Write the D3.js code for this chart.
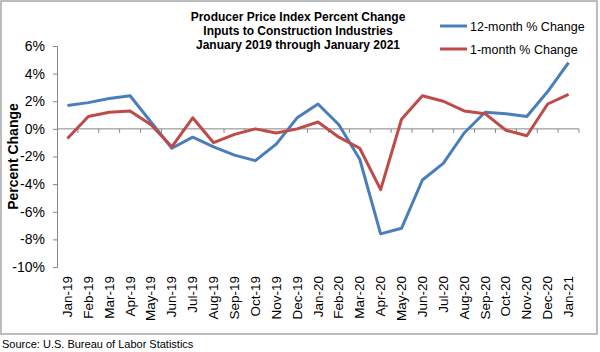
<!DOCTYPE html>
<html>
<head>
<meta charset="utf-8">
<script src="https://cdn.jsdelivr.net/npm/d3@7"></script>
<style>
  body { margin: 0; background: #fff; }
  svg text { font-family: "Liberation Sans", Arial, sans-serif; }
</style>
</head>
<body>
<div id="chart"></div>
<script>
// months on the category axis
const months = ["Jan-19","Feb-19","Mar-19","Apr-19","May-19","Jun-19","Jul-19","Aug-19","Sep-19","Oct-19","Nov-19","Dec-19",
    "Jan-20","Feb-20","Mar-20","Apr-20","May-20","Jun-20","Jul-20","Aug-20","Sep-20","Oct-20","Nov-20","Dec-20","Jan-21"];

// 12-month % change
const twelveMonth = [1.7, 1.9, 2.2, 2.4, 0.5, -1.4, -0.6, -1.3, -1.9, -2.3, -1.1, 0.8,
    1.8, 0.3, -2.2, -7.6, -7.2, -3.7, -2.5, -0.3, 1.2, 1.1, 0.9, 2.7, 4.8];

// 1-month % change
const oneMonth = [-0.7, 0.9, 1.2, 1.3, 0.3, -1.3, 0.8, -1.0, -0.4, 0.0, -0.3, 0.0,
    0.5, -0.6, -1.4, -4.4, 0.7, 2.4, 2.0, 1.3, 1.1, -0.1, -0.5, 1.8, 2.5];

const yTicks = [6, 4, 2, 0, -2, -4, -6, -8, -10];

const titleLines = ["Producer Price Index Percent Change", "Inputs to Construction Industries", "January 2019 through January 2021"];

const series = [
    {name: "12-month % Change", values: twelveMonth, color: "#4a7ebb"},
    {name: "1-month % Change", values: oneMonth, color: "#be4b48"}
];

const width = 600, height = 352;
const margin = {top: 46, right: 21, bottom: 85, left: 57};

const svg = d3.select("#chart").append("svg")
    .attr("width", width)
    .attr("height", height);

// outer frame
svg.append("rect")
    .attr("x", 1).attr("y", 1)
    .attr("width", 596).attr("height", 333)
    .attr("fill", "none")
    .attr("stroke", "#a6a6a6")
    .attr("stroke-width", 1.5);

const x = d3.scaleBand()
    .domain(months)
    .range([margin.left, width - margin.right]);

const y = d3.scaleLinear()
    .domain([-10, 6])
    .range([height - margin.bottom, margin.top]);

// y axis
const yAxis = svg.append("g")
    .attr("transform", `translate(${margin.left},0)`)
    .call(d3.axisLeft(y).tickValues(yTicks).tickSize(4).tickFormat(d => d + "%"));
yAxis.select(".domain").attr("stroke", "#868686");
yAxis.selectAll(".tick line").attr("stroke", "#868686");
yAxis.selectAll(".tick text")
    .attr("x", -12)
    .attr("fill", "#000")
    .style("font-size", "14px")
    .style("font-family", "Liberation Sans, Arial, sans-serif");

// x axis along zero line, ticks at band boundaries
const zeroG = svg.append("g")
    .attr("transform", `translate(0,${y(0)})`);
zeroG.append("line")
    .attr("x1", margin.left).attr("x2", width - margin.right)
    .attr("stroke", "#868686");
zeroG.selectAll(".xtick")
    .data(months)
    .enter().append("line")
    .attr("class", "xtick")
    .attr("x1", d => x(d) + x.bandwidth())
    .attr("x2", d => x(d) + x.bandwidth())
    .attr("y1", 0).attr("y2", 4)
    .attr("stroke", "#868686");

// x labels, rotated
svg.selectAll(".xlabel")
    .data(months)
    .enter().append("text")
    .attr("class", "xlabel")
    .attr("transform", d => `translate(${x(d) + x.bandwidth() / 2 + 4.5},${height - margin.bottom + 9}) rotate(-90)`)
    .attr("text-anchor", "end")
    .style("font-size", "13.5px")
    .text(d => d);

// lines
const line = d3.line()
    .x((d, i) => x(months[i]) + x.bandwidth() / 2)
    .y(d => y(d));

series.forEach(s => {
    svg.append("path")
        .datum(s.values)
        .attr("fill", "none")
        .attr("stroke", s.color)
        .attr("stroke-width", 3)
        .attr("stroke-linejoin", "round")
        .attr("d", line);
});

// title
svg.append("g").selectAll("text")
    .data(titleLines)
    .enter().append("text")
    .attr("x", 298)
    .attr("y", (d, i) => 21 + i * 14)
    .attr("text-anchor", "middle")
    .style("font-size", "12px")
    .style("font-weight", "bold")
    .text(d => d);

// y axis title
svg.append("text")
    .attr("transform", `translate(18,${(margin.top + height - margin.bottom) / 2}) rotate(-90)`)
    .attr("text-anchor", "middle")
    .style("font-size", "14px")
    .style("font-weight", "bold")
    .text("Percent Change");

// legend
const legend = svg.append("g").selectAll("g")
    .data(series)
    .enter().append("g")
    .attr("transform", (d, i) => `translate(440,${26 + i * 23})`);
legend.append("line")
    .attr("x1", 0).attr("x2", 27)
    .attr("stroke", d => d.color)
    .attr("stroke-width", 3);
legend.append("text")
    .attr("x", 30)
    .attr("y", 4.5)
    .style("font-size", "12.5px")
    .text(d => d.name);

// source note
svg.append("text")
    .attr("x", 2)
    .attr("y", 348)
    .style("font-size", "11px")
    .text("Source: U.S. Bureau of Labor Statistics");
</script>
</body>
</html>
